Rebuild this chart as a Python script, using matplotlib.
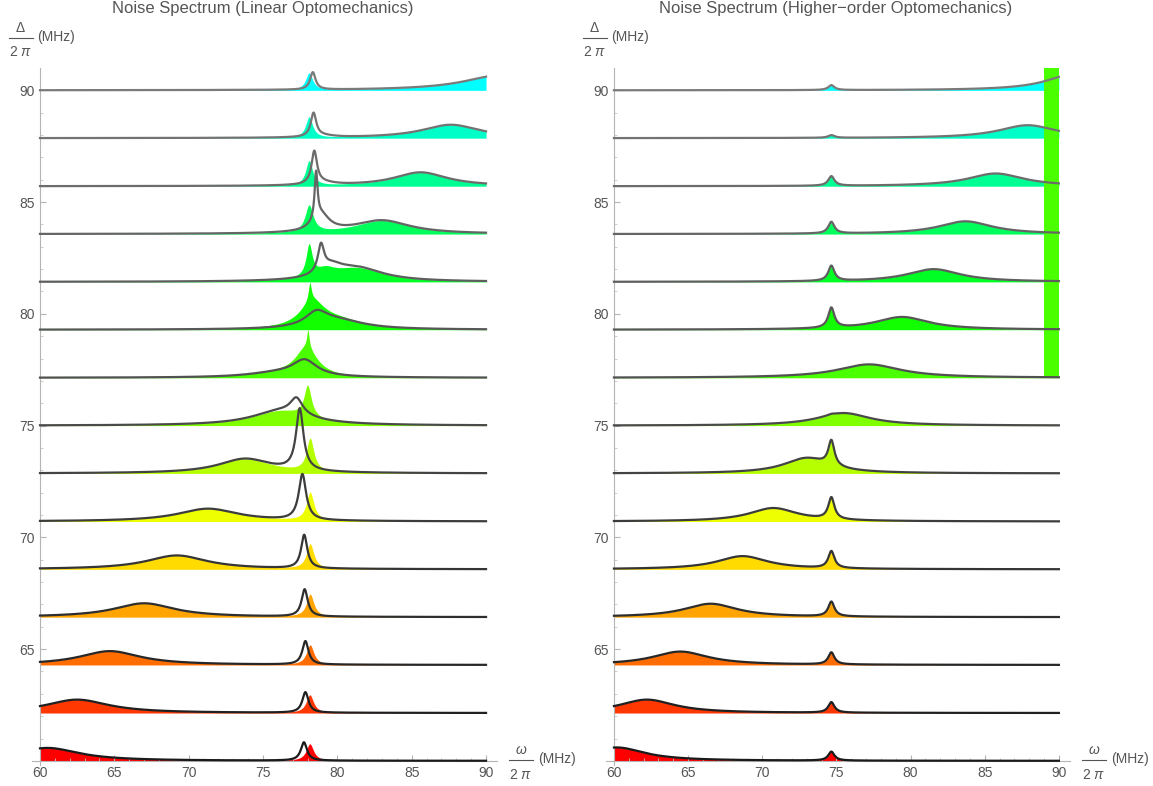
import colorsys
import numpy as np
import matplotlib.pyplot as plt
from matplotlib.lines import Line2D

plt.rcParams['font.family'] = ['Liberation Sans', 'DejaVu Sans']
plt.rcParams['mathtext.fontset'] = 'custom'
plt.rcParams['mathtext.rm'] = 'Liberation Sans'
plt.rcParams['mathtext.it'] = 'Liberation Sans:italic'

# detuning of every trace (MHz), bottom to top
delta = [60.0, 62.14, 64.29, 66.43, 68.57, 70.71, 72.86, 75.0,
         77.14, 79.29, 81.43, 83.57, 85.71, 87.86, 90.0]

# every spectrum is a sum of Lorentzian peaks: (centre, height, half width)
# --- linear optomechanics (left) ---
lin_cav = [(60.5, 0.58, 2.6), (62.5, 0.60, 2.6), (64.7, 0.62, 2.5), (67.0, 0.62, 2.5),
           (69.2, 0.62, 2.5), (71.3, 0.57, 2.5), (73.8, 0.65, 2.2), (76.2, 0.65, 2.4),
           (76.0, 0.20, 2.5), (80.0, 0.40, 2.2), (81.3, 0.60, 2.2), (83.0, 0.60, 2.3),
           (85.6, 0.62, 2.2), (87.64, 0.60, 2.4), (91.0, 0.68, 3.0)]
lin_fill_a = [(78.15, 0.75, 0.3), (78.15, 0.80, 0.3), (78.17, 0.88, 0.3), (78.17, 1.00, 0.3),
              (78.17, 1.10, 0.3), (78.17, 1.25, 0.3), (78.17, 1.45, 0.3), (78.0, 1.40, 0.3),
              (78.02, 0.80, 0.1), (78.15, 0.80, 0.12), (78.1, 1.40, 0.25), (78.1, 1.20, 0.33),
              (78.1, 1.10, 0.28), (78.1, 0.92, 0.28), (78.1, 0.75, 0.28)]
lin_fill_b = [(78.0, 0.0, 1.0), (78.0, 0.0, 1.0), (78.0, 0.0, 1.0), (78.0, 0.0, 1.0),
              (78.0, 0.0, 1.0), (78.0, 0.0, 1.0), (78.0, 0.0, 1.0), (78.0, 0.0, 1.0),
              (77.9, 1.25, 0.9), (78.3, 1.10, 1.0), (79.2, 0.35, 0.8), (78.0, 0.0, 1.0),
              (78.0, 0.0, 1.0), (78.0, 0.0, 1.0), (78.0, 0.0, 1.0)]
lin_line_a = [(77.75, 0.82, 0.25), (77.85, 0.92, 0.25), (77.85, 1.05, 0.25), (77.8, 1.22, 0.25),
              (77.77, 1.50, 0.25), (77.65, 2.05, 0.3), (77.47, 2.75, 0.3), (77.25, 0.72, 0.5),
              (77.8, 0.70, 1.0), (78.6, 0.60, 0.9), (78.9, 1.20, 0.25), (78.57, 2.10, 0.12),
              (78.45, 1.45, 0.22), (78.4, 1.05, 0.22), (78.35, 0.78, 0.22)]
lin_line_b = [(78.0, 0.0, 1.0), (78.0, 0.0, 1.0), (78.0, 0.0, 1.0), (78.0, 0.0, 1.0),
              (78.0, 0.0, 1.0), (78.0, 0.0, 1.0), (78.0, 0.0, 1.0), (78.0, 0.0, 1.0),
              (78.0, 0.0, 1.0), (78.0, 0.0, 1.0), (79.6, 0.45, 0.9), (78.9, 0.75, 0.7),
              (79.0, 0.12, 1.0), (79.0, 0.08, 1.0), (78.0, 0.0, 1.0)]

# --- higher-order optomechanics (right), fill and line coincide ---
ho_cav = [(60.2, 0.60, 2.3), (62.22, 0.60, 2.3), (64.48, 0.60, 2.3), (66.52, 0.60, 2.2),
          (68.67, 0.59, 2.1), (70.75, 0.60, 2.0), (73.0, 0.68, 1.9), (75.5, 0.56, 2.2),
          (77.2, 0.60, 2.6), (79.43, 0.57, 2.2), (81.56, 0.57, 2.2), (83.7, 0.57, 2.2),
          (85.74, 0.57, 2.3), (87.9, 0.58, 2.4), (91.0, 0.72, 2.26)]
ho_mech = [(74.66, 0.40, 0.25), (74.66, 0.47, 0.25), (74.66, 0.54, 0.25), (74.66, 0.66, 0.25),
           (74.66, 0.76, 0.25), (74.66, 0.97, 0.25), (74.66, 1.12, 0.25), (74.66, 0.04, 0.25),
           (74.66, 0.00, 0.25), (74.66, 0.90, 0.25), (74.66, 0.68, 0.25), (74.66, 0.52, 0.25),
           (74.66, 0.43, 0.25), (74.66, 0.12, 0.25), (74.66, 0.22, 0.25)]
# numerical artefact: trace 8 shoots off the top between these frequencies
ho_spike_trace = 8
ho_spike_x = [89.0, 90.0]

omega = np.linspace(60, 90, 3001)
W, H = 1153.0, 786.0
TXT = '#555555'


def lorentz(x, peak):
    c, h, g = peak
    return h * g**2 / ((x - c)**2 + g**2)


def trace_colour(k):
    return colorsys.hsv_to_rgb(k / 28.0, 1.0, 1.0)


def line_grey(k):
    g = 0.1 + 0.027 * k
    return (g, g, g)


def style_axes(ax):
    ax.set_xlim(59.45, 90.75)
    ax.set_ylim(59.8, 91.0)
    for s in ['top', 'right']:
        ax.spines[s].set_visible(False)
    ax.spines['left'].set_position(('data', 60))
    ax.spines['bottom'].set_position(('data', 60))
    for s in ['left', 'bottom']:
        ax.spines[s].set_color('#b4b4b4')
        ax.spines[s].set_linewidth(0.8)
    ax.set_xticks(range(60, 91, 5))
    ax.set_xticks(range(60, 91), minor=True)
    ax.set_yticks(range(65, 91, 5))
    ax.set_yticks(range(61, 91), minor=True)
    ax.tick_params(which='major', direction='in', length=4, width=0.8, color='#b4b4b4',
                   labelcolor=TXT, labelsize=10, pad=4)
    ax.tick_params(which='minor', direction='in', length=2.5, width=0.6, color='#c4c4c4')
    ax.patch.set_visible(False)


def frac_label(fig, xc, ybar, top, half=12):
    # stacked fraction "top / 2 pi" followed by (MHz), positions in pixels
    fig.text(xc / W, 1 - (ybar - 10) / H, top, ha='center', va='center', fontsize=10, color=TXT)
    fig.text(xc / W, 1 - (ybar + 15) / H, r'2 $\pi$', ha='center', va='center',
             fontsize=10, color=TXT)
    fig.add_artist(Line2D([(xc - half) / W, (xc + half) / W], [1 - ybar / H, 1 - ybar / H],
                          color=TXT, lw=0.8))
    fig.text((xc + half + 5) / W, 1 - (ybar - 0.5) / H, '(MHz)', ha='left', va='center',
             fontsize=10, color=TXT)


fig = plt.figure(figsize=(11.53, 7.86), dpi=100)
ax1 = fig.add_axes([0.0276, 0.0263, 0.4036, 0.8872])
ax2 = fig.add_axes([0.5254, 0.0263, 0.4026, 0.8872])

# left panel
for k, d in enumerate(delta):
    spec = lorentz(omega, lin_cav[k]) + lorentz(omega, lin_fill_a[k]) + lorentz(omega, lin_fill_b[k])
    ax1.fill_between(omega, d, d + spec, color=trace_colour(k), lw=0, zorder=1)
for k, d in enumerate(delta):
    spec = lorentz(omega, lin_cav[k]) + lorentz(omega, lin_line_a[k]) + lorentz(omega, lin_line_b[k])
    ax1.plot(omega, d + spec, color=line_grey(k), lw=1.6, zorder=3)

# right panel
for k, d in enumerate(delta):
    spec = lorentz(omega, ho_cav[k]) + lorentz(omega, ho_mech[k])
    ax2.fill_between(omega, d, d + spec, color=trace_colour(k), lw=0, zorder=1)
ax2.fill_between(ho_spike_x, delta[ho_spike_trace], 100, color=trace_colour(ho_spike_trace),
                 lw=0, zorder=2)
for k, d in enumerate(delta):
    spec = lorentz(omega, ho_cav[k]) + lorentz(omega, ho_mech[k])
    ax2.plot(omega, d + spec, color=line_grey(k), lw=1.6, zorder=3)

for ax in (ax1, ax2):
    style_axes(ax)

fig.text(263 / W, 1 - 8 / H, 'Noise Spectrum (Linear Optomechanics)',
         ha='center', va='center', fontsize=12, color=TXT)
fig.text(836 / W, 1 - 8 / H, 'Noise Spectrum (Higher\u2212order Optomechanics)',
         ha='center', va='center', fontsize=12, color=TXT)

frac_label(fig, 20.5, 37.5, r'$\Delta$')
frac_label(fig, 594.5, 37.5, r'$\Delta$')
frac_label(fig, 521, 760, r'$\omega$')
frac_label(fig, 1094, 760, r'$\omega$')

fig.savefig('out.png', dpi=100)
